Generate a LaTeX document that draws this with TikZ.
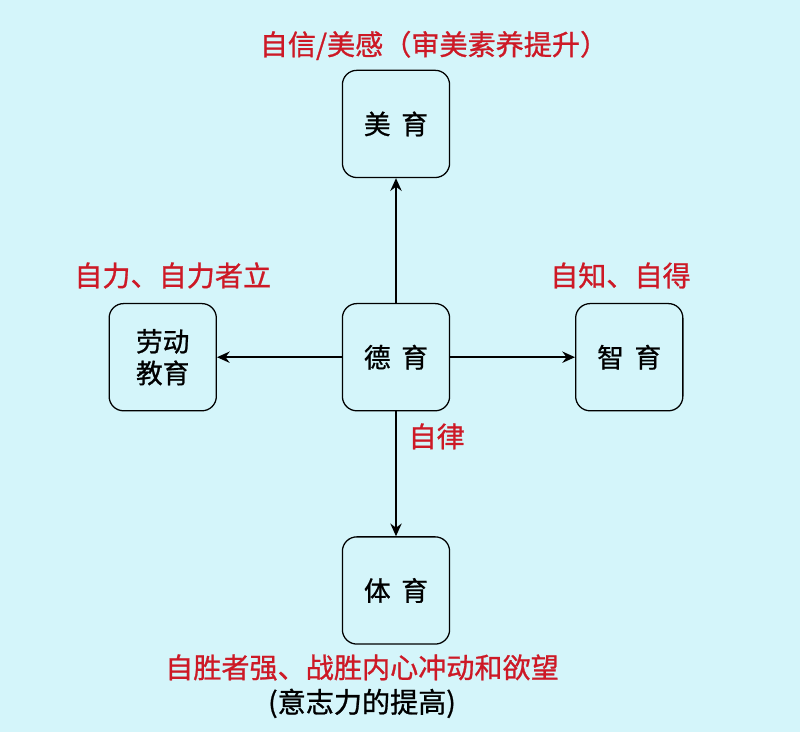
\documentclass[tikz,border=0pt]{standalone}
\usepackage{fontspec}
\setmainfont{Noto Sans CJK SC}
\newfontfamily\cjkmedium{Noto Sans CJK SC}[FakeBold=0.9]
\usetikzlibrary{arrows.meta,positioning}
\definecolor{bgcyan}{RGB}{212,245,250}
\definecolor{labelred}{RGB}{205,25,38}

\begin{document}
\begin{tikzpicture} [
    node distance=3.12cm,
    edu/.style={rectangle, rounded corners=0.36cm, draw=black, line width=0.9pt, minimum size=2.68cm, align=center, font=\cjkmedium\fontsize{19}{22.5}\selectfont},
    note/.style={text=labelred, font=\cjkmedium\fontsize{20}{24}\selectfont, inner sep=1pt},
    aside/.style={font=\cjkmedium\fontsize{20}{24}\selectfont, inner sep=1pt},
    >={Stealth[length=9pt,width=8pt]}
    ]
    \fill[bgcyan] (0,0) rectangle (20,-18.3);
    \useasboundingbox (0,0) rectangle (20,-18.3);

    %Nodes
    \node[edu]      (deyu)     at (9.9,-8.93) {德\hspace{0.4em}育};
    \node[edu]      (meiyu)    [above=of deyu] {美\hspace{0.4em}育};
    \node[edu]      (laodong)  [left=of deyu] {劳动\\教育};
    \node[edu]      (zhiyu)    [right=of deyu] {智\hspace{0.4em}育};
    \node[edu]      (tiyu)     [below=of deyu] {体\hspace{0.4em}育};

    %Labels
    \node[note]     (zixin)    [above=0.2cm of meiyu, xshift=0.95cm] {自信/美感（审美素养提升）};
    \node[note]     (zili)     [above=0.32cm of laodong, xshift=0.25cm] {自力、自力者立};
    \node[note]     (zizhi)    [above=0.32cm of zhiyu, xshift=-0.22cm] {自知、自得};
    \node[note]     (zisheng)  [below=0.2cm of tiyu, xshift=-0.85cm] {自胜者强、战胜内心冲动和欲望};
    \node[aside]    (yizhi)    [below=0.12cm of zisheng] {(意志力的提高)};

    %Lines
    \draw[->, line width=1.6pt] (deyu.north) -- (meiyu.south);
    \draw[->, line width=1.6pt] (deyu.west) -- (laodong.east);
    \draw[->, line width=1.6pt] (deyu.east) -- (zhiyu.west);
    \draw[->, line width=1.6pt] (deyu.south) -- (tiyu.north) node[note, pos=0.2, right=0.25cm] {自律};

\end{tikzpicture}
\end{document}
